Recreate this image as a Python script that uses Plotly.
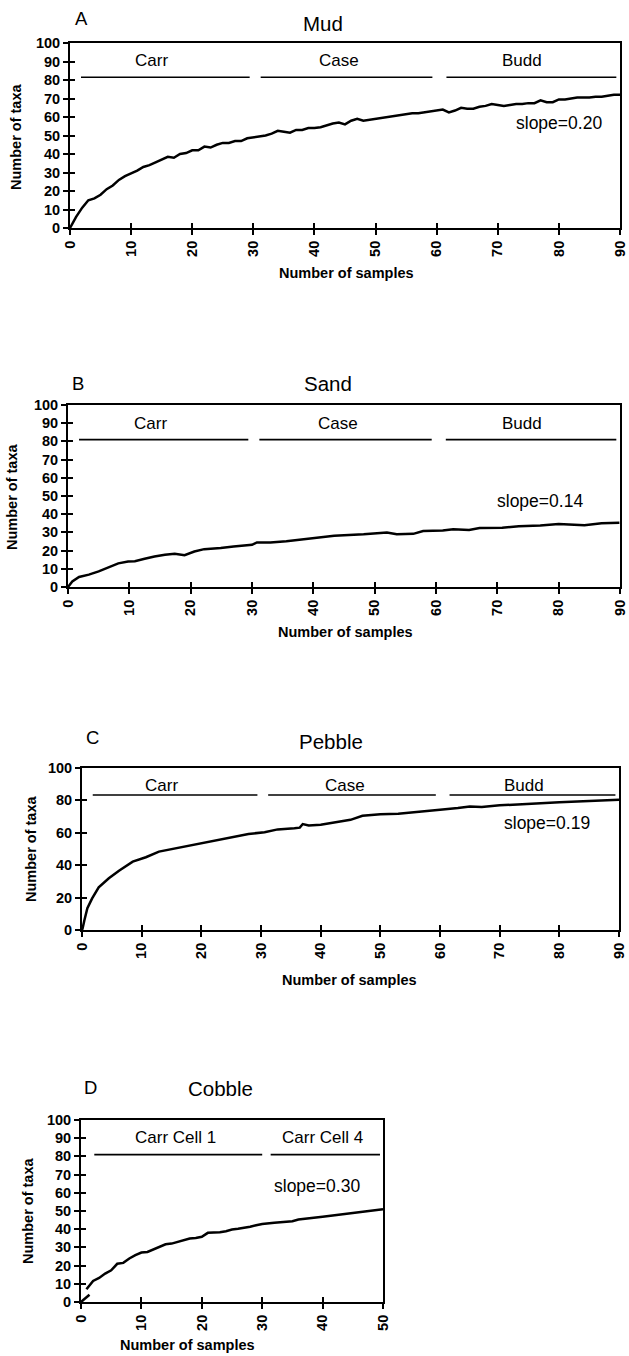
import plotly.graph_objects as go

W, H = 629, 1356

# ---------------- data ----------------
mud_x = list(range(0, 91))
mud_y = [0, 6, 11, 15, 16, 18, 21, 23, 26, 28, 29.5, 31, 33, 34, 35.5, 37, 38.5, 38, 40, 40.5,
         42, 42, 44, 43.5, 45, 46, 46, 47, 47, 48.5, 49, 49.5, 50, 51, 52.5, 52, 51.5, 53, 53, 54,
         54, 54.5, 55.5, 56.5, 57, 56, 58, 59, 58, 58.5, 59, 59.5, 60, 60.5, 61, 61.5, 62, 62, 62.5, 63,
         63.5, 64, 62.5, 63.5, 65, 64.5, 64.5, 65.5, 66, 67, 66.5, 66, 66.5, 67, 67, 67.5, 67.5, 69, 68, 68,
         69.5, 69.5, 70, 70.5, 70.5, 70.5, 71, 71, 71.5, 72, 72]

sand_x = [0, 0.7, 1.8, 3.4, 5, 6.6, 8.2, 9.8, 10.9, 12.5, 14.1, 15.8, 17.4, 19, 20.6, 22.2, 24.9, 27,
          30, 30.8, 33, 35.6, 36.7, 40.2, 43.4, 48.2, 52, 53.6, 56.3, 57.9, 61.1, 62.8, 65.4, 67.1,
          70.8, 73.5, 77, 80, 82, 84.2, 87, 89.9]
sand_y = [0, 3, 5.5, 6.8, 8.6, 10.8, 13, 14, 14.2, 15.5, 16.8, 17.7, 18.3, 17.5, 19.5, 20.8, 21.4, 22.3,
          23.2, 24.5, 24.5, 25.2, 25.6, 27.2, 28.1, 29, 30, 29, 29.2, 30.8, 31, 31.7, 31.3, 32.4,
          32.6, 33.4, 33.8, 34.6, 34.4, 33.9, 35, 35.3]

pebble_x = [0, 0.1, 0.4, 0.9, 1.7, 2.8, 4.5, 6.2, 8.5, 10.7, 12.9, 15.1, 17.3, 19.6, 22.3, 25.1, 27.9,
            30.6, 32.8, 35.6, 36.5, 37, 38, 40, 43, 45, 47, 50, 53, 55, 58, 60, 63, 65, 67, 70, 73,
            75, 78, 80, 83, 85, 88, 90]
pebble_y = [0, 1, 6, 13.4, 19.5, 26.3, 31.9, 36.6, 42.2, 44.9, 48.4, 50, 51.9, 53.5, 55.6, 57.6, 59.3,
            60.3, 62.1, 62.8, 63.2, 65.4, 64.5, 65, 67, 68, 70.5, 71.5, 71.8, 72.6, 73.5, 74.2, 75.3,
            76.3, 76, 77, 77.5, 78, 78.5, 78.8, 79.3, 79.6, 80, 80.4]

cobble_start_x = [0, 1.4]
cobble_start_y = [0, 4]
cobble_x = [0.9, 2, 3, 4, 5, 6, 7, 8, 9, 10, 11, 12, 13, 14, 15, 16, 17, 18, 19, 20, 21, 22, 23, 24, 25,
            26, 27, 28, 29, 30, 32, 35, 36, 38, 40, 42, 44, 46, 48, 50]
cobble_y = [7, 11.6, 13.2, 15.6, 17.4, 21, 21.5, 23.9, 25.7, 27.2, 27.5, 28.8, 30.3, 31.7, 32.1, 33, 34,
            34.9, 35.2, 35.8, 38, 38, 38.3, 38.9, 39.8, 40.2, 40.7, 41.3, 42.2, 42.8, 43.5, 44.4, 45.3,
            45.9, 46.8, 47.7, 48.6, 49.4, 50.1, 51]

site_labels_3 = ["Carr", "Case", "Budd"]
site_start_3 = [1.8, 31.2, 61.6]
site_end_3 = [29.4, 59.3, 89.4]
site_center_3 = [13.4, 44, 74]

site_labels_d = ["Carr Cell 1", "Carr Cell 4"]
site_start_d = [2.2, 31.4]
site_end_d = [30, 49.5]
site_center_d = [15.6, 40]

panel_letters = ["A", "B", "C", "D"]
panel_titles = ["Mud", "Sand", "Pebble", "Cobble"]
slopes = ["slope=0.20", "slope=0.14", "slope=0.19", "slope=0.30"]
x_label = "Number of samples"
y_label = "Number of taxa"

# ---------------- layout geometry (pixels) ----------------
panels = [
    dict(x0=70, x1=620, y0=43, y1=228, xmax=90, ydtick=10,
         letter=(81, 18), title=(323, 23), xtitle=(346, 273), ytitle=(16, 137),
         bar_y=81.5, lab_y=90.5, slope=(80, 57)),
    dict(x0=68, x1=620, y0=405, y1=587, xmax=90, ydtick=10,
         letter=(78, 383), title=(328, 383), xtitle=(345, 632), ytitle=(12, 497),
         bar_y=81, lab_y=90, slope=(77, 47.4)),
    dict(x0=82, x1=619, y0=768, y1=930, xmax=90, ydtick=20,
         letter=(92, 738), title=(331, 741), xtitle=(350, 980), ytitle=(31, 849),
         bar_y=83.3, lab_y=89, slope=(78, 66)),
    dict(x0=81, x1=383, y0=1120, y1=1302, xmax=50, ydtick=10,
         letter=(90, 1087), title=(220, 1088), xtitle=(187, 1345), ytitle=(28, 1211),
         bar_y=81, lab_y=90.6, slope=(39, 64)),
]

FONT = "Liberation Sans, Arial, Helvetica, sans-serif"

def px(x):
    return x / W

def py(y):
    return 1 - y / H

fig = go.Figure()
annotations = []
line_style = dict(color="black", width=2.5)
bar_style = dict(color="black", width=1.6)

curves = [(mud_x, mud_y), (sand_x, sand_y), (pebble_x, pebble_y), (cobble_x, cobble_y)]

for i, p in enumerate(panels):
    n = "" if i == 0 else str(i + 1)
    xa, ya = "x" + n, "y" + n
    cx, cy = curves[i]
    fig.add_trace(go.Scatter(x=cx, y=cy, mode="lines", line=line_style,
                             xaxis=xa, yaxis=ya, showlegend=False, hoverinfo="skip"))
    if i == 3:
        fig.add_trace(go.Scatter(x=cobble_start_x, y=cobble_start_y, mode="lines", line=line_style,
                                 xaxis=xa, yaxis=ya, showlegend=False, hoverinfo="skip"))
        labs, st, en, ce = site_labels_d, site_start_d, site_end_d, site_center_d
    else:
        labs, st, en, ce = site_labels_3, site_start_3, site_end_3, site_center_3
    for lab, s, e, c in zip(labs, st, en, ce):
        fig.add_trace(go.Scatter(x=[s, e], y=[p["bar_y"], p["bar_y"]], mode="lines", line=bar_style,
                                 xaxis=xa, yaxis=ya, showlegend=False, hoverinfo="skip"))
        annotations.append(dict(x=c, y=p["lab_y"], xref=xa, yref=ya, text=lab, showarrow=False,
                                font=dict(family=FONT, size=17, color="black"),
                                xanchor="center", yanchor="middle"))
    annotations.append(dict(x=p["slope"][0], y=p["slope"][1], xref=xa, yref=ya, text=slopes[i],
                            showarrow=False, font=dict(family=FONT, size=17.5, color="black"),
                            xanchor="center", yanchor="middle"))
    annotations.append(dict(x=px(p["letter"][0]), y=py(p["letter"][1]), xref="paper", yref="paper",
                            text=panel_letters[i], showarrow=False,
                            font=dict(family=FONT, size=18.5, color="black"),
                            xanchor="center", yanchor="middle"))
    annotations.append(dict(x=px(p["title"][0]), y=py(p["title"][1]), xref="paper", yref="paper",
                            text=panel_titles[i], showarrow=False,
                            font=dict(family=FONT, size=20.5, color="black"),
                            xanchor="center", yanchor="middle"))
    annotations.append(dict(x=px(p["xtitle"][0]), y=py(p["xtitle"][1]), xref="paper", yref="paper",
                            text="<b>" + x_label + "</b>", showarrow=False,
                            font=dict(family=FONT, size=14.5, color="black"),
                            xanchor="center", yanchor="middle"))
    annotations.append(dict(x=px(p["ytitle"][0]), y=py(p["ytitle"][1]), xref="paper", yref="paper",
                            text="<b>" + y_label + "</b>", showarrow=False, textangle=-90,
                            font=dict(family=FONT, size=14.5, color="black"),
                            xanchor="center", yanchor="middle"))

    tickfont = dict(family=FONT, size=14.5, color="black", weight="bold")
    axis_common = dict(showgrid=False, zeroline=False, showline=True, linecolor="black", linewidth=2,
                       mirror=True, ticks="outside", tickcolor="black", tickwidth=1.5, ticklen=5,
                       automargin=False, tickfont=tickfont, ticklabeloverflow="allow")
    xdom = [px(p["x0"]), px(p["x1"])]
    ydom = [py(p["y1"]), py(p["y0"])]
    fig.update_layout(**{
        ("xaxis" + n): dict(domain=xdom, anchor=ya, range=[0, p["xmax"]],
                            tick0=0, dtick=10, tickangle=-90, **axis_common),
        ("yaxis" + n): dict(domain=ydom, anchor=xa, range=[0, 100],
                            tick0=0, dtick=p["ydtick"], **axis_common),
    })
    # inner half of the crossing tick marks (overlay axes with inside ticks)
    k = str(i + 5)
    inner = dict(showgrid=False, zeroline=False, showline=False, showticklabels=False,
                 ticks="inside", tickcolor="black", tickwidth=1.5, ticklen=5, automargin=False)
    fig.add_trace(go.Scatter(x=[], y=[], mode="lines", xaxis="x" + k, yaxis="y" + k,
                             showlegend=False, hoverinfo="skip"))
    fig.update_layout(**{
        ("xaxis" + k): dict(domain=xdom, anchor="y" + k, overlaying=xa, range=[0, p["xmax"]],
                            tick0=0, dtick=10, **inner),
        ("yaxis" + k): dict(domain=ydom, anchor="x" + k, overlaying=ya, range=[0, 100],
                            tick0=0, dtick=p["ydtick"], **inner),
    })

fig.update_layout(width=W, height=H, margin=dict(l=0, r=0, t=0, b=0, pad=0),
                  paper_bgcolor="white", plot_bgcolor="white", annotations=annotations,
                  showlegend=False)

fig.write_html("out.html", config={"displayModeBar": False},
               post_script="document.body.style.margin='0';document.body.style.padding='0';"
                           "document.body.style.overflow='hidden';")
